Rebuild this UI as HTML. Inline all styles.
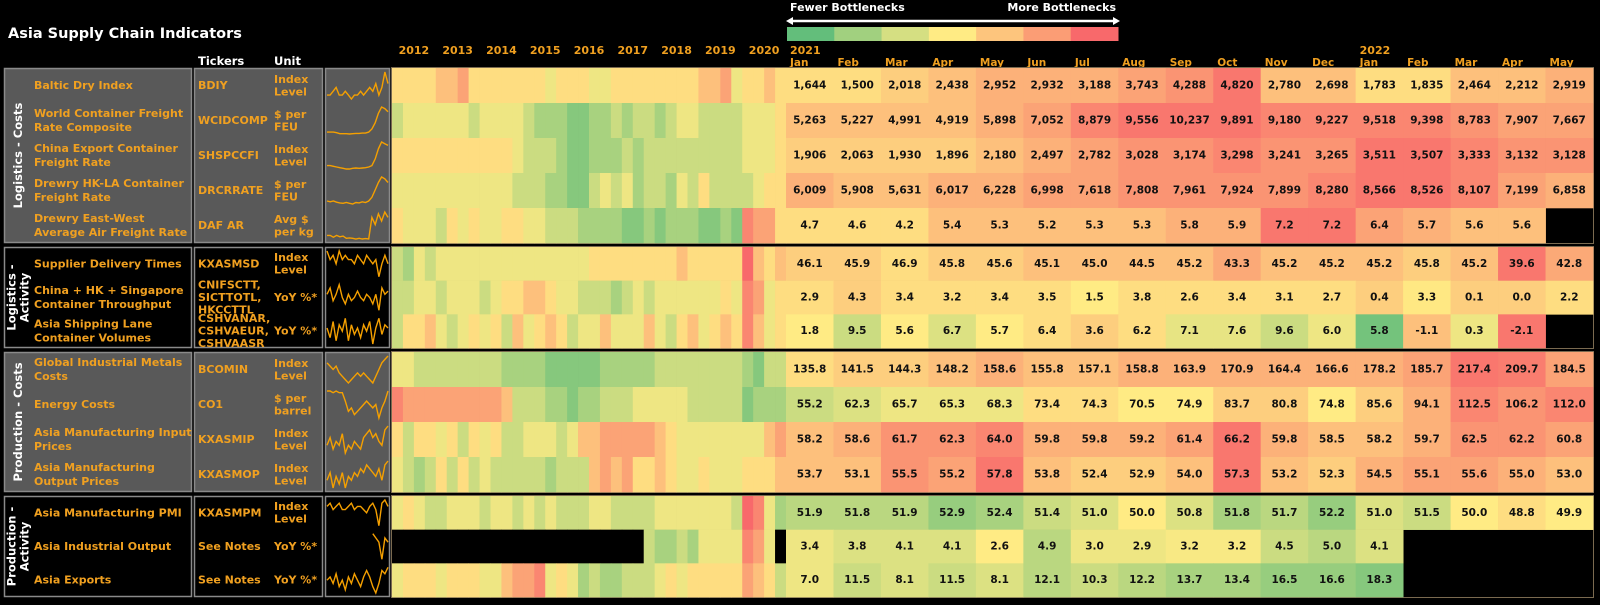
<!DOCTYPE html>
<html><head><meta charset="utf-8">
<style>
html,body{margin:0;padding:0;background:#000;}
body{width:1600px;height:605px;overflow:hidden;position:relative;font-family:"DejaVu Sans","Liberation Sans",sans-serif;}
svg{position:absolute;left:0;top:0;}
</style></head>
<body>
<svg id="chart" width="1600" height="605" viewBox="0 0 1600 605">
<text x="8" y="38" fill="#fff" font-size="14.5" font-weight="bold">Asia Supply Chain Indicators</text>
<text x="790" y="11" fill="#fff" font-size="11" font-weight="bold">Fewer Bottlenecks</text>
<text x="1116" y="11" fill="#fff" font-size="11" font-weight="bold" text-anchor="end">More Bottlenecks</text>
<g>
<line x1="790" y1="21" x2="1116" y2="21" stroke="#fff" stroke-width="2.5"/>
<path d="M786 21 L793 17 L793 25 Z" fill="#fff"/>
<path d="M1120 21 L1113 17 L1113 25 Z" fill="#fff"/>
</g>
<g id="legend"></g>
<text x="198" y="65" fill="#fff" font-size="11.5" font-weight="bold">Tickers</text>
<text x="274" y="65" fill="#fff" font-size="11.5" font-weight="bold">Unit</text>
<g id="years"></g>
<g id="groups"></g>
<g id="hist"></g>
<g id="cur"></g>
<g id="spark"></g>
</svg>
<script>
const months=["Jan","Feb","Mar","Apr","May","Jun","Jul","Aug","Sep","Oct","Nov","Dec","Jan","Feb","Mar","Apr","May"];
const histYears=["2012","2013","2014","2015","2016","2017","2018","2019","2020"];
const names=[["Baltic Dry Index"],["World Container Freight","Rate Composite"],["China Export Container","Freight Rate"],["Drewry HK-LA Container","Freight Rate"],["Drewry East-West","Average Air Freight Rate"],
["Supplier Delivery Times"],["China + HK + Singapore","Container Throughput"],["Asia Shipping Lane","Container Volumes"],
["Global Industrial Metals","Costs"],["Energy Costs"],["Asia Manufacturing Input","Prices"],["Asia Manufacturing","Output Prices"],
["Asia Manufacturing PMI"],["Asia Industrial Output"],["Asia Exports"]];
const tickers=[["BDIY"],["WCIDCOMP"],["SHSPCCFI"],["DRCRRATE"],["DAF AR"],["KXASMSD"],["CNIFSCTT,","SICTTOTL,","HKCCTTL"],["CSHVANAR,","CSHVAEUR,","CSHVAASR"],["BCOMIN"],["CO1"],["KXASMIP"],["KXASMOP"],["KXASMPM"],["See Notes"],["See Notes"]];
const units=[["Index","Level"],["$ per","FEU"],["Index","Level"],["$ per","FEU"],["Avg $","per kg"],["Index","Level"],["YoY %*"],["YoY %*"],["Index","Level"],["$ per","barrel"],["Index","Level"],["Index","Level"],["Index","Level"],["YoY %*"],["YoY %*"]];
const groupLabels=[["Logistics - Costs"],["Logistics -","Activity"],["Production - Costs"],["Production -","Activity"]];
// printed values
const v0=["1,644","1,500","2,018","2,438","2,952","2,932","3,188","3,743","4,288","4,820","2,780","2,698","1,783","1,835","2,464","2,212","2,919"];
const v1=["5,263","5,227","4,991","4,919","5,898","7,052","8,879","9,556","10,237","9,891","9,180","9,227","9,518","9,398","8,783","7,907","7,667"];
const v2=["1,906","2,063","1,930","1,896","2,180","2,497","2,782","3,028","3,174","3,298","3,241","3,265","3,511","3,507","3,333","3,132","3,128"];
const v3=["6,009","5,908","5,631","6,017","6,228","6,998","7,618","7,808","7,961","7,924","7,899","8,280","8,566","8,526","8,107","7,199","6,858"];
const v4=["4.7","4.6","4.2","5.4","5.3","5.2","5.3","5.3","5.8","5.9","7.2","7.2","6.4","5.7","5.6","5.6"];
const v5=["46.1","45.9","46.9","45.8","45.6","45.1","45.0","44.5","45.2","43.3","45.2","45.2","45.2","45.8","45.2","39.6","42.8"];
const v6=["2.9","4.3","3.4","3.2","3.4","3.5","1.5","3.8","2.6","3.4","3.1","2.7","0.4","3.3","0.1","0.0","2.2"];
const v7=["1.8","9.5","5.6","6.7","5.7","6.4","3.6","6.2","7.1","7.6","9.6","6.0","5.8","-1.1","0.3","-2.1"];
const v8=["135.8","141.5","144.3","148.2","158.6","155.8","157.1","158.8","163.9","170.9","164.4","166.6","178.2","185.7","217.4","209.7","184.5"];
const v9=["55.2","62.3","65.7","65.3","68.3","73.4","74.3","70.5","74.9","83.7","80.8","74.8","85.6","94.1","112.5","106.2","112.0"];
const v10=["58.2","58.6","61.7","62.3","64.0","59.8","59.8","59.2","61.4","66.2","59.8","58.5","58.2","59.7","62.5","62.2","60.8"];
const v11=["53.7","53.1","55.5","55.2","57.8","53.8","52.4","52.9","54.0","57.3","53.2","52.3","54.5","55.1","55.6","55.0","53.0"];
const v12=["51.9","51.8","51.9","52.9","52.4","51.4","51.0","50.0","50.8","51.8","51.7","52.2","51.0","51.5","50.0","48.8","49.9"];
const v13=["3.4","3.8","4.1","4.1","2.6","4.9","3.0","2.9","3.2","3.2","4.5","5.0","4.1"];
const v14=["7.0","11.5","8.1","11.5","8.1","12.1","10.3","12.2","13.7","13.4","16.5","16.6","18.3"];
// bottleneck score (0 green .. 9 red) for each cell
const h0=[5,5,5.5,6,6.5,6.5,6.5,7,7.5,8.5,6,6,5,5,6,6,6.5];
const h1=[6,6,6,6,6.5,7,8,8.5,8.5,8.5,8,8,8,8,7.5,7,7];
const h2=[5.5,5.5,5.5,5.5,6,6.5,7,7.5,7.5,8,7.5,7.5,8.5,8.5,8,7.5,7.5];
const h3=[6.5,6,6,6.5,6.5,7,7,7.5,7.5,7.5,7.5,8,8.5,8.5,8,7,6.5];
const h4=[5,5,5,6,6,6,6,6,6.5,6.5,8.5,8.5,7,6.5,6,6];
const h5=[5.5,5.5,5,5.5,5.5,6,6,6,6,6.8,6,6,6,5.5,6,8.5,6.8];
const h6=[5,5.5,5,5,5,5,4.5,5,5,5,5,5,5.5,4.6,5.5,5.5,5];
const h7=[4.5,3,4.5,3.5,4.5,5,5.5,5,3.8,3.8,3,4,0.5,6,4,8.5];
const h8=[5,5.5,5.5,6,6.5,6,6,6.5,6.5,6.5,6.5,6.5,6.5,7,8.5,8.3,7];
const h9=[3,3.5,4,4,4,5,5,4.5,4.5,5.5,5.5,4.5,5.5,6.5,8,7.5,8];
const h10=[6,6.5,7.5,7.5,8,6.5,6.5,6.5,7,8.5,6.5,6,6,6.5,7.5,7.5,7];
const h11=[6,6,7.5,7,8.5,6,5.5,5.5,6,8.5,6,5.5,6.5,7,7,6.5,6];
const h12=[2.5,2.5,2.5,1.5,2,3,3.5,4.5,3.5,2,2.5,1.5,3.5,3,4.5,5,4.5];
const h13=[4,3.5,3.5,3.5,4.5,2.5,4,4,4.3,4.3,3,2.5,3.5];
const h14=[4,3,3.5,3,3.5,2.5,3,2.5,2,2,1.5,1.5,1];
// history 2012-2020 quarterly scores ('.' = no data)
const hist0="555566755555554555445555555566745565";
const hist1="344444434444322211223233234433334445";
const hist2="555555555554333211222323333333334445";
const hist3="444444444443332211343423324353333455";
const hist4="544435454455443332222112122211218775";
const hist5="324344444444444444555555556555559656";
const hist6="334434443455665443332343444444548745";
const hist7="355643454536456534464446435645658645";
const hist8="443333333322221111122222333333332133";
const hist9="877777777763332212233344444333331222";
const hist10="535545354533444346677777654444444467";
const hist11="432353534333332333676755654454445556";
const hist12="454334443443434333443333444444439842";
const hist13=".......................322324444874";
const hist14="455545554467784542322333454555557653";
// sparkline series (rough, 2012-2022)
const s0=[3,3,4,5,3,3,4,3,2,3,3,4,3,4,5,4,6,3,5,9,6];
const s1=[2,2,2,1.8,1.5,1.5,1.5,1.4,1.5,1.6,1.6,1.7,1.7,2,3,5,8,10,9.5,8.5];
const s2=[3,3,2.8,2.6,2.4,2.2,2,2,2.2,2.3,2.2,2.3,2.4,2.6,3,5,8,10,9.5,9];
const s3=[3,2.8,3,2.7,2.5,2.4,2.6,2.4,2.2,2.6,2.5,2.8,2.6,3,4,6,8,9.5,9,8];
const s4=[3,3,2.5,3,2.6,2.8,2.2,2.3,2.2,2,2.2,2,2.1,2,8,6,9,7,9.5,8];
const s5=[8,6,7,5,8,6,7,6,6,5,7,6,5,7,6,5,6,2,5,7,5];
const s6=[6,8,4,6,9,5,3,6,4,5,7,5,4,6,5,3,6,1,8,6,7];
const s7=[6,3,8,2,7,5,9,2,7,4,6,3,7,5,8,1,6,9,4,7,6];
const s8=[8,7,6,7,5,4,3,2,3,4,5,4,5,4,3,2,4,6,8,9,10];
const s9=[9,9,8.5,9,8.5,8.5,6,3,4,2,3,4,5,6,5,4,5,1,4,6,9];
const s10=[4,6,3,5,4,7,2,4,3,5,4,3,6,7,8,6,7,5,4,8,9];
const s11=[4,6,2,5,3,6,2,5,4,6,5,7,6,8,7,6,5,7,4,8,9];
const s12=[7,8,6,7,8,6,6,7,8,6,7,7,6,5,7,8,6,1,8,9,7];
const s13=[null,null,null,null,null,null,null,null,null,null,null,null,null,null,null,7,6,5,1,6,5];
const s14=[5,6,4,7,3,5,2,6,4,7,5,3,6,8,6,3,1,4,8,7,9];

const vals=[v0,v1,v2,v3,v4,v5,v6,v7,v8,v9,v10,v11,v12,v13,v14];
const heats=[h0,h1,h2,h3,h4,h5,h6,h7,h8,h9,h10,h11,h12,h13,h14];
const hists=[hist0,hist1,hist2,hist3,hist4,hist5,hist6,hist7,hist8,hist9,hist10,hist11,hist12,hist13,hist14];
const sparks=[s0,s1,s2,s3,s4,s5,s6,s7,s8,s9,s10,s11,s12,s13,s14];

const NS="http://www.w3.org/2000/svg";
function mk(tag,attrs,parent){const e=document.createElementNS(NS,tag);for(const k in attrs)e.setAttribute(k,attrs[k]);parent.appendChild(e);return e;}
function lerp(a,b,t){return a.map((x,i)=>Math.round(x+(b[i]-x)*t));}
const G=[99,190,123],Y=[255,235,132],R=[248,105,107];
function color(s){s=Math.max(0,Math.min(9,s));const c=s<=4.5?lerp(G,Y,s/4.5):lerp(Y,R,(s-4.5)/4.5);return "rgb("+c.join(",")+")";}

const groupRows=[[0,5,68,243],[5,3,247,348],[8,4,352,492],[12,3,496,597]];
const rowTop=[],rowH=[];
groupRows.forEach(([s,n,t,b])=>{const h=(b-t)/n;for(let i=0;i<n;i++){rowTop[s+i]=t+i*h;rowH[s+i]=h;}});
const CX0=786,CW=(1593-786)/17;
const HX0=392,HX1=786;
function xCur(i){return CX0+i*CW;}
function xHist(q){return HX0+q*(HX1-HX0)/36;}

const legendScores=[0,1.8,3.3,4.5,5.8,7.2,9];
const lg=document.getElementById('legend');
legendScores.forEach((s,i)=>{const w=(1118-787)/7;const r=mk('rect',{x:787+i*w,y:27,width:w+0.5,height:14,fill:color(s)},lg);
});

const yg=document.getElementById('years');
histYears.forEach((y,i)=>{const t=mk('text',{x:HX0+(i+0.5)*(HX1-HX0)/9,y:54,fill:'#F0A020','font-size':'11','font-weight':'bold','text-anchor':'middle'},yg);t.textContent=y;
});
[["2021",0],["2022",12]].forEach(([y,i])=>{const t=mk('text',{x:xCur(i)+4,y:54,fill:'#F0A020','font-size':'11','font-weight':'bold'},yg);t.textContent=y;
});
months.forEach((m,i)=>{const t=mk('text',{x:xCur(i)+4,y:66,fill:'#F0A020','font-size':'10.5','font-weight':'bold'},yg);t.textContent=m;
});

const gg=document.getElementById('groups');
groupRows.forEach(([s,n,t,b],gi)=>{
 const fill=(gi%2===0)?'#595959':'#000';
 [[4,192],[194,323],[325,390]].forEach(([x0,x1],k)=>{const r=mk('rect',{x:x0+0.5,y:t+0.5,width:x1-x0-1,height:b-t-1,fill:fill,stroke:'#8a8a8a','stroke-width':1.5},gg);
  });
 const lines=groupLabels[gi];const cy=(t+b)/2;
 lines.forEach((ln,li)=>{const xx=18+(li-(lines.length-1)/2)*13;const tx=mk('text',{x:xx,y:cy,fill:'#fff','font-size':'11.5','font-weight':'bold','text-anchor':'middle','dominant-baseline':'central',transform:`rotate(-90 ${xx} ${cy})`},gg);tx.textContent=ln;
  });
 const hb=mk('rect',{x:HX0-0.5,y:t-0.5,width:1593-HX0+1,height:b-t+1,fill:'none',stroke:'#7a6a50','stroke-width':1},gg);
 
});

function multiText(lines,x,cy,lh,parent,name,fs){lines.forEach((ln,li)=>{const y=cy+(li-(lines.length-1)/2)*lh;const t=mk('text',{x:x,y:y,fill:'#F0A020','font-size':fs,'font-weight':'bold','dominant-baseline':'central'},parent);t.textContent=ln;
 });}

const hg=document.getElementById('hist'),cg=document.getElementById('cur'),sg=document.getElementById('spark');
for(let r=0;r<15;r++){
 const t=rowTop[r],h=rowH[r],cy=t+h/2;
 multiText(names[r],34,cy,14,gg,'indicator-name','11');
 multiText(tickers[r],198,cy,12.5,gg,'ticker','11');
 multiText(units[r],274,cy,12.5,gg,'unit','11');
 const hs=hists[r];
 for(let q=0;q<36;q++){const ch=hs[q];const x0=xHist(q),x1=xHist(q+1);
  const rc=mk('rect',{x:x0,y:t,width:x1-x0+0.4,height:h+0.3,fill:ch==='.'?'#000':color(+ch)},hg);
  }
 const vs=vals[r],hh=heats[r];
 for(let i=0;i<vs.length;i++){
  const rc=mk('rect',{x:xCur(i),y:t,width:CW+0.4,height:h+0.3,fill:color(hh[i])},cg);
  
  const tx=mk('text',{x:xCur(i)+CW/2,y:cy,fill:'#111','font-size':'10.5','font-weight':'bold','text-anchor':'middle','dominant-baseline':'central'},cg);tx.textContent=vs[i];
  
 }
 const sp=sparks[r];const nn=sp.filter(v=>v!==null);const mn=Math.min(...nn),mx=Math.max(...nn);
 let d='';sp.forEach((v,i)=>{if(v===null)return;const x=327+i*(61/(sp.length-1));const y=t+h-4-(v-mn)/(mx-mn||1)*(h-8);d+=(d?'L':'M')+x.toFixed(1)+' '+y.toFixed(1);});
 const pl=mk('path',{d:d,fill:'none',stroke:'#F5A000','stroke-width':1.4},sg);
 
}
</script>
</body></html>
